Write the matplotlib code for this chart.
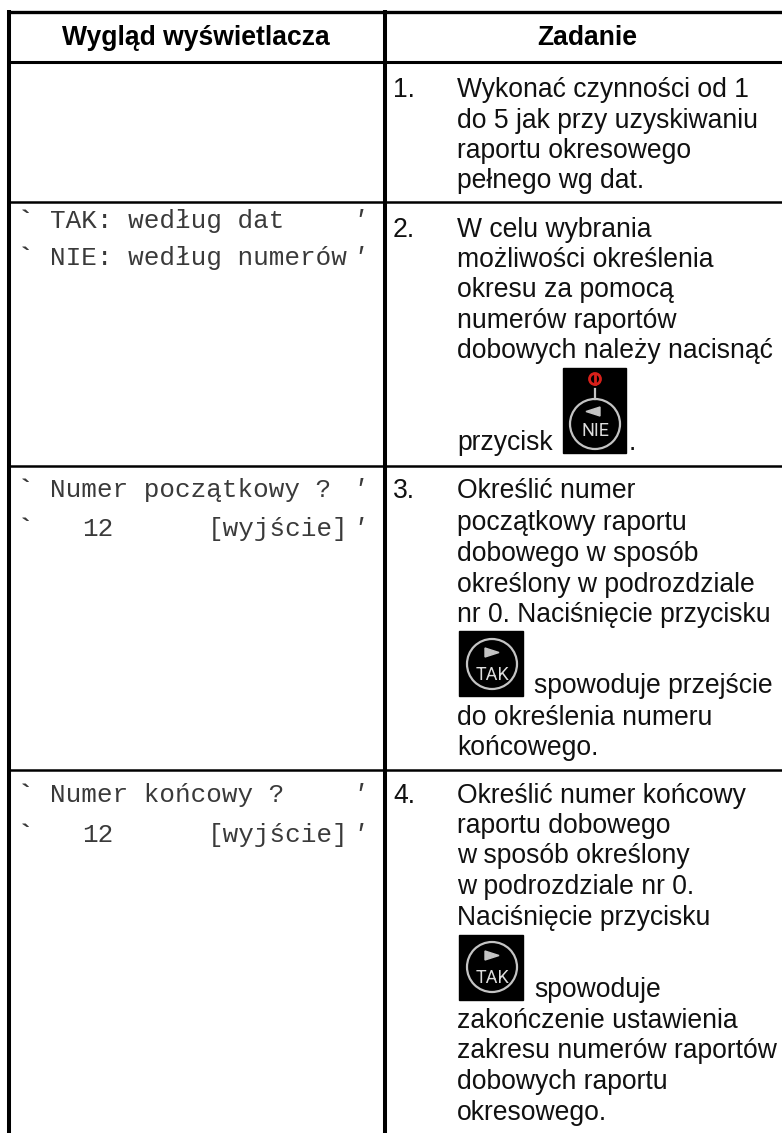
import matplotlib
matplotlib.use('Agg')
import matplotlib.pyplot as plt
from matplotlib.patches import Rectangle, Circle, Polygon

### Table text ###

headers = ['Wygląd wyświetlacza', 'Zadanie']
display_lines = [
    "TAK: według dat", "NIE: według numerów",
    "Numer początkowy ?", "12", "[wyjście]",
    "Numer końcowy ?", "12", "[wyjście]",
]
step_numbers = ['1.', '2.', '3.', '4.']
step_1 = ['Wykonać czynności od 1', 'do 5 jak przy uzyskiwaniu', 'raportu okresowego', 'pełnego wg dat.']
step_2 = ['W celu wybrania', 'możliwości określenia', 'okresu za pomocą', 'numerów raportów',
          'dobowych należy nacisnąć', 'przycisk', '.']
step_3 = ['Określić numer', 'początkowy raportu', 'dobowego w sposób', 'określony w podrozdziale',
          'nr 0. Naciśnięcie przycisku', 'spowoduje przejście', 'do określenia numeru', 'końcowego.']
step_4 = ['Określić numer końcowy', 'raportu dobowego', 'w sposób określony', 'w podrozdziale nr 0.',
          'Naciśnięcie przycisku', 'spowoduje', 'zakończenie ustawienia', 'zakresu numerów raportów',
          'dobowych raportu', 'okresowego.']

SANS = 'Liberation Sans'
MONO = 'Liberation Mono'
SANS_SIZE = 19.1
MONO_SIZE = 18.7
GREY = '#c4c4c4'

fig = plt.figure(figsize=(7.82, 11.33), dpi=100)
ax = fig.add_axes([0, 0, 1, 1])
ax.set_xlim(0, 782)
ax.set_ylim(1133, 0)
ax.axis('off')


def sans(x, y, s):
    ax.text(x, y, s, family=SANS, fontsize=SANS_SIZE, va='baseline', color='#111111')


def mono(x, y, s, **kw):
    ax.text(x, y, s, family=MONO, fontsize=MONO_SIZE, va='baseline', color='#3a3a3a', **kw)


def button(x0, y0, x1, y1, cx, cy, label, label_dy, tri):
    ax.add_patch(Rectangle((x0, y0), x1 - x0, y1 - y0, color='black', zorder=3))
    ax.add_patch(Circle((cx, cy), 25, fill=False, ec=GREY, lw=1.6, zorder=4))
    ax.add_patch(Polygon([(cx + a, cy + b) for a, b in tri], color=GREY, zorder=4))
    ax.text(cx, cy + label_dy, label, family='Roboto', fontsize=13, color='#dddddd',
            ha='center', va='center', zorder=5)


# grid lines
for y, lw in [(12, 2.4), (62, 2.2), (202, 1.8), (466, 1.8), (770, 1.8)]:
    ax.plot([7, 782], [y, y], color='black', lw=lw, solid_capstyle='butt')
ax.plot([9, 9], [10, 1133], color='black', lw=2.9, solid_capstyle='butt')
ax.plot([384.5, 384.5], [10, 1133], color='black', lw=2.9, solid_capstyle='butt')

# header
ax.text(196, 45, headers[0], family=SANS, fontsize=SANS_SIZE, fontweight='bold', ha='center', va='baseline')
ax.text(587, 45, headers[1], family=SANS, fontsize=SANS_SIZE, fontweight='bold', ha='center', va='baseline')

# left column, display contents
for y in [228, 265, 497, 536, 802, 842]:
    mono(18, y, '`', fontweight='bold')
    mono(351, y, "'", style='italic')
mono(50, 228, display_lines[0])
mono(50, 265, display_lines[1])
mono(50, 497, display_lines[2])
mono(82, 536, display_lines[3])
mono(208, 536, display_lines[4])
mono(50, 802, display_lines[5])
mono(82, 842, display_lines[6])
mono(208, 842, display_lines[7])

# right column, numbers
for y, s in zip([97, 237, 498, 803], step_numbers):
    sans(393, y, s)

for y, s in zip([97, 128, 158, 188], step_1):
    sans(457, y, s)
for y, s in zip([237, 267, 297, 328, 358], step_2[:5]):
    sans(457, y, s)
sans(457, 450, step_2[5])
sans(629, 450, step_2[6])
for y, s in zip([498, 530, 561, 592, 622], step_3[:5]):
    sans(457, y, s)
sans(534, 693, step_3[5])
for y, s in zip([725, 755], step_3[6:]):
    sans(457, y, s)
for y, s in zip([803, 833, 863, 894, 925], step_4[:5]):
    sans(457, y, s)
sans(534, 997, step_4[5])
for y, s in zip([1028, 1058, 1089, 1120], step_4[6:]):
    sans(457, y, s)

# buttons
nie_arrow = [(-9, -12.5), (5, -17), (5, -8)]
tak_arrow = [(-7, -16), (7, -11.5), (-7, -7)]
button(563, 368, 626, 453, 595, 424, 'NIE', 7, nie_arrow)
ax.add_patch(Circle((595, 379), 5.5, fill=False, ec='#d8201a', lw=2, zorder=4))
ax.plot([595, 595], [374, 384], color='#d8201a', lw=2, zorder=4)
ax.plot([595, 595], [389, 399], color=GREY, lw=1.6, zorder=4)
button(459, 631, 523, 696, 492, 664, 'TAK', 11, tak_arrow)
button(459, 935, 523, 1000, 492, 967, 'TAK', 11, tak_arrow)

fig.savefig('out.png', dpi=100)
